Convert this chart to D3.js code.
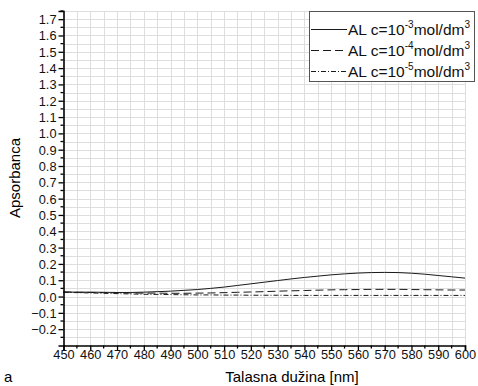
<!DOCTYPE html>
<html>
<head>
<meta charset="utf-8">
<script src="https://cdn.jsdelivr.net/npm/d3@7"></script>
<style>
  body { margin: 0; background: #fff; }
  svg { font-family: "Liberation Sans", Arial, sans-serif; }
</style>
</head>
<body>
<svg></svg>
<script>
const wavelengths = [450, 455, 460, 465, 470, 475, 480, 485, 490, 495, 500, 505, 510, 515, 520, 525, 530, 535, 540, 545, 550, 555, 560, 565, 570, 575, 580, 585, 590, 595, 600]
const c3 = [0.028, 0.027, 0.027, 0.026, 0.025, 0.025, 0.027, 0.030, 0.033, 0.038, 0.043, 0.050, 0.058, 0.068, 0.078, 0.088, 0.098, 0.108, 0.117, 0.125, 0.133, 0.139, 0.144, 0.147, 0.148, 0.147, 0.143, 0.137, 0.129, 0.121, 0.113]
const c4 = [0.028, 0.026, 0.025, 0.024, 0.023, 0.022, 0.021, 0.021, 0.020, 0.020, 0.021, 0.022, 0.024, 0.026, 0.028, 0.030, 0.033, 0.035, 0.037, 0.039, 0.041, 0.042, 0.043, 0.044, 0.044, 0.044, 0.043, 0.042, 0.041, 0.040, 0.040]
const c5 = [0.026, 0.024, 0.022, 0.020, 0.018, 0.016, 0.014, 0.013, 0.012, 0.011, 0.010, 0.010, 0.009, 0.009, 0.008, 0.008, 0.008, 0.007, 0.007, 0.007, 0.007, 0.007, 0.007, 0.007, 0.007, 0.007, 0.007, 0.007, 0.007, 0.007, 0.007]
const seriesNames = ["-3", "-4", "-5"]
const xTicks = d3.range(450, 601, 10)
const yTicks = d3.range(-0.2, 1.71, 0.1)

const width = 478, height = 386
const svg = d3.select('svg').attr("width", width).attr("height", height)

const x = d3.scaleLinear().domain([450, 600]).range([63.5, 465])
const y = d3.scaleLinear().domain([-0.3, 1.75]).range([345.5, 11])

// Grid
const grid = svg.append("g").attr("stroke", "#dedede").attr("stroke-width", 1)
grid.selectAll(".gx").data(d3.range(455, 601, 5)).join("line")
    .attr("x1", d => Math.round(x(d)) + 0.5).attr("x2", d => Math.round(x(d)) + 0.5)
    .attr("y1", y(1.75)).attr("y2", y(-0.3))
grid.selectAll(".gy").data(d3.range(-0.25, 1.76, 0.05)).join("line")
    .attr("y1", d => Math.round(y(d)) + 0.5).attr("y2", d => Math.round(y(d)) + 0.5)
    .attr("x1", x(450)).attr("x2", x(600))

// Series
const series = [
    { values: c3, dash: null },
    { values: c4, dash: "8,4" },
    { values: c5, dash: "5,2,1,2" }
]
const line = d3.line().x((d, i) => x(wavelengths[i])).y(d => y(d)).curve(d3.curveMonotoneX)
svg.append("g").selectAll("path").data(series).join("path")
    .attr("d", d => line(d.values))
    .attr("fill", "none")
    .attr("stroke", "#1a1a1a")
    .attr("stroke-width", 1)
    .attr("stroke-dasharray", d => d.dash)

// Axes
const xAxis = svg.append("g").attr("transform", `translate(0, ${y(-0.3)})`)
    .call(d3.axisBottom(x).tickValues(xTicks).tickSize(5).tickFormat(d3.format("d")))
xAxis.append("g").selectAll("line").data(d3.range(455, 600, 10)).join("line")
    .attr("x1", d => x(d)).attr("x2", d => x(d)).attr("y2", 3).attr("stroke", "#000").attr("stroke-width", 1.3)
const yAxis = svg.append("g").attr("transform", `translate(${x(450)}, 0)`)
    .call(d3.axisLeft(y).tickValues(yTicks).tickSize(5).tickFormat(d3.format(".1f")))
yAxis.append("g").selectAll("line").data(d3.range(-0.25, 1.76, 0.1)).join("line")
    .attr("y1", d => y(d)).attr("y2", d => y(d)).attr("x2", -3).attr("stroke", "#000").attr("stroke-width", 1.3)

for (const ax of [xAxis, yAxis]) {
    ax.select(".domain").attr("stroke", "#000").attr("stroke-width", 1.6)
    ax.selectAll(".tick line").attr("stroke", "#000").attr("stroke-width", 1.3)
    ax.selectAll(".tick text").attr("font-size", 12.8).attr("fill", "#111")
        .attr("font-family", "Liberation Sans, Arial, sans-serif")
}
xAxis.selectAll(".tick text").attr("y", 4.5).attr("dy", "0.71em")
yAxis.selectAll(".tick text").attr("x", -7).attr("dy", "0.35em")

// Axis titles
svg.append("text").attr("transform", "translate(20, 178) rotate(-90)")
    .attr("text-anchor", "middle").attr("font-size", 15).text("Apsorbanca")
svg.append("text").attr("x", 292).attr("y", 382)
    .attr("text-anchor", "middle").attr("font-size", 15).text("Talasna dužina [nm]")
svg.append("text").attr("x", 4).attr("y", 382).attr("font-size", 15).text("a")

// Legend
const legend = svg.append("g")
legend.append("rect").attr("x", 309.5).attr("y", 11.5).attr("width", 165).attr("height", 70)
    .attr("fill", "#fff").attr("stroke", "#555").attr("stroke-width", 1)
const rows = legend.selectAll(".row").data(series).join("g")
    .attr("transform", (d, i) => `translate(0, ${29.5 + i * 21})`)
rows.append("line").attr("x1", 311).attr("x2", 347)
    .attr("stroke", "#1a1a1a").attr("stroke-width", 1)
    .attr("stroke-dasharray", d => d.dash)
const label = rows.append("text").attr("x", 348).attr("y", 5.5).attr("font-size", 15.5).attr("fill", "#111")
label.append("tspan").text("AL c=10")
label.append("tspan").attr("font-size", 10).attr("dy", -7).text((d, i) => seriesNames[i])
label.append("tspan").attr("dy", 7).text("mol/dm")
label.append("tspan").attr("font-size", 10).attr("dy", -7).text("3")
</script>
</body>
</html>
